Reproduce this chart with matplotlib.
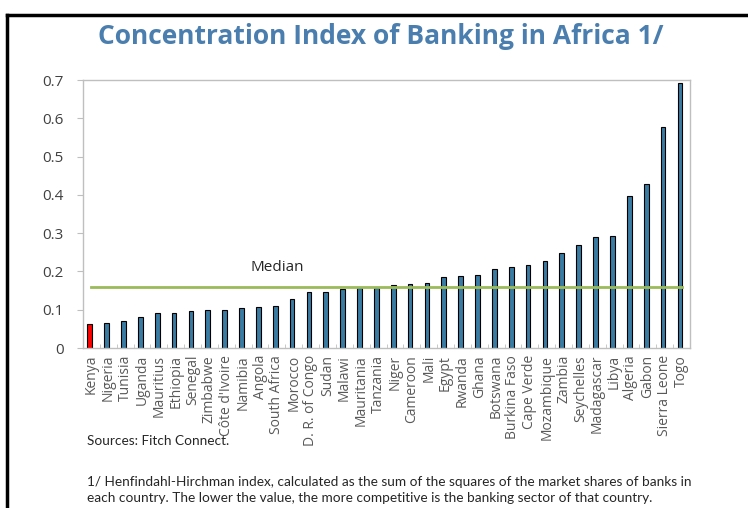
import matplotlib.pyplot as plt
from matplotlib.lines import Line2D
import numpy as np

# Datos
countries = ["Kenya", "Nigeria", "Tunisia", "Uganda", "Mauritius", "Ethiopia", "Senegal",
             "Zimbabwe", "Côte d'Ivoire", "Namibia", "Angola", "South Africa", "Morocco",
             "D. R. of Congo", "Sudan", "Malawi", "Mauritania", "Tanzania", "Niger",
             "Cameroon", "Mali", "Egypt", "Rwanda", "Ghana", "Botswana", "Burkina Faso",
             "Cape Verde", "Mozambique", "Zambia", "Seychelles", "Madagascar", "Libya",
             "Algeria", "Gabon", "Sierra Leone", "Togo"]
hhi = [0.062, 0.064, 0.071, 0.082, 0.092, 0.092, 0.096, 0.099, 0.100, 0.104, 0.108,
       0.109, 0.128, 0.145, 0.145, 0.153, 0.157, 0.157, 0.164, 0.167, 0.170, 0.186,
       0.188, 0.191, 0.206, 0.212, 0.217, 0.226, 0.248, 0.268, 0.289, 0.292, 0.398,
       0.428, 0.578, 0.693]
median = 0.16
highlight = "Kenya"

y_ticks = [0, 0.1, 0.2, 0.3, 0.4, 0.5, 0.6, 0.7]
y_labels = ["0", "0.1", "0.2", "0.3", "0.4", "0.5", "0.6", "0.7"]

title = "Concentration Index of Banking in Africa 1/"
source = "Sources: Fitch Connect."
note = ("1/ Henfindahl-Hirchman index, calculated as the sum of the squares of the market shares of banks in\n"
        "each country. The lower the value, the more competitive is the banking sector of that country.")

plt.rcParams['font.family'] = ['Open Sans', 'DejaVu Sans']
nota_font = ['Lato', 'DejaVu Sans']

fig = plt.figure(figsize=(7.48, 5.08), dpi=100)
ax = fig.add_axes([83/748, 1 - 348/508, (690 - 83)/748, (348 - 80)/508])

x = np.arange(len(countries))
colores = ['#FF0000' if c == highlight else '#3A7BA3' for c in countries]
ax.bar(x - 0.1, hhi, width=0.28, color=colores, edgecolor='black', linewidth=0.8, zorder=2)
ax.plot(x, [median] * len(x), color='#9BBB59', linewidth=2, zorder=3)
ax.text(11, 0.211, "Median", ha='center', va='center', fontsize=11, color='#262626')

ax.set_xlim(-0.5, len(countries) - 0.5)
ax.set_ylim(0, 0.7)
ax.set_yticks(y_ticks)
ax.set_yticklabels(y_labels, fontsize=11, color='#404040')
ax.set_xticks(x)
ax.set_xticklabels(countries, rotation=90, fontsize=10, color='#595959')
ax.tick_params(axis='x', length=0, pad=5)
ax.set_xticks(np.arange(len(countries) + 1) - 0.5, minor=True)
ax.tick_params(axis='x', which='minor', direction='in', length=3, color='#BFBFBF')
ax.tick_params(axis='y', length=4, color='#BFBFBF', pad=10)

for s in ax.spines.values():
    s.set_color('#BFBFBF')
    s.set_linewidth(1)

fig.text(381/748, 1 - 37/508, title, ha='center', va='center', fontsize=19,
         fontweight='bold', color='#4A7EAE')
fig.text(87/748, 1 - 441/508, source, ha='left', va='center', fontsize=9.8,
         family=nota_font, color='#262626')
fig.text(87/748, 1 - 490/508, note, ha='left', va='center', fontsize=9.8,
         family=nota_font, color='#262626', linespacing=1.4)

# marco negro arriba y a la izquierda
fig.add_artist(Line2D([7/748, 1], [1 - 15/508, 1 - 15/508], color='black', linewidth=2.5,
                      transform=fig.transFigure))
fig.add_artist(Line2D([7/748, 7/748], [0, 1 - 15/508], color='black', linewidth=2.5,
                      transform=fig.transFigure))

fig.savefig("out.png", dpi=100)
